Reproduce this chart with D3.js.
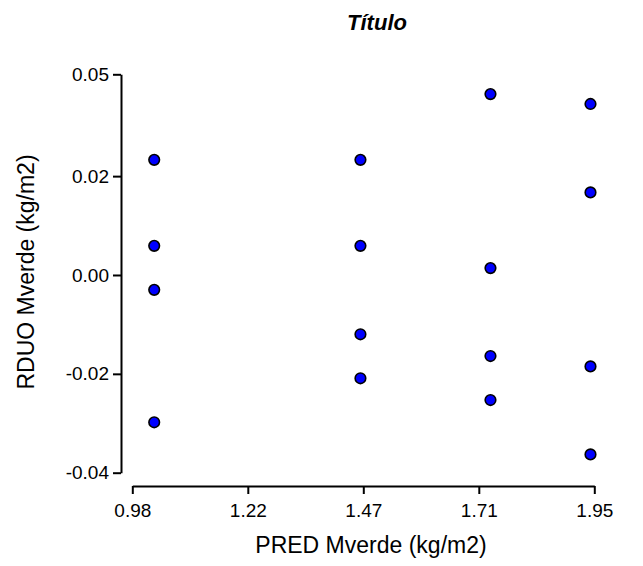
<!DOCTYPE html>
<html>
<head>
<meta charset="utf-8">
<script src="https://cdn.jsdelivr.net/npm/d3@7"></script>
<style>
  body { margin: 0; background: #fff; }
  text { font-family: Arial, "Liberation Sans", sans-serif; fill: #000; }
</style>
</head>
<body>
<svg id="chart" width="643" height="566"></svg>
<script>
// data
const predX = [1.026, 1.026, 1.026, 1.026,
               1.459, 1.459, 1.459, 1.459,
               1.732, 1.732, 1.732, 1.732,
               1.942, 1.942, 1.942, 1.942];
const rduoY = [0.0233, 0.0059, -0.0030, -0.0298,
               0.0233, 0.0059, -0.0120, -0.0209,
               0.0366, 0.0014, -0.0164, -0.0253,
               0.0346, 0.0167, -0.0185, -0.0363];

const xTickValues = [0.98, 1.2225, 1.465, 1.7075, 1.95];
const xTickLabels = ["0.98", "1.22", "1.47", "1.71", "1.95"];
const yTickValues = [-0.04, -0.02, 0, 0.02, 0.0406];
const yTickLabels = ["-0.04", "-0.02", "0.00", "0.02", "0.05"];

const svg = d3.select('#chart');

const xScale = d3.scaleLinear().domain([0.98, 1.95]).range([132.3, 594.3]);
const yScale = d3.scaleLinear().domain([-0.04, 0.0406]).range([472.7, 74.3]);

// y axis
const yAxis = d3.axisLeft(yScale)
  .tickValues(yTickValues)
  .tickFormat((d, i) => yTickLabels[i])
  .tickSize(8)
  .tickSizeOuter(0)
  .tickPadding(4);

const yAxisG = svg.append('g')
  .attr('transform', 'translate(121,0)')
  .call(yAxis);

// x axis, offset below the plot
const xAxis = d3.axisBottom(xScale)
  .tickValues(xTickValues)
  .tickFormat((d, i) => xTickLabels[i])
  .tickSize(8)
  .tickSizeOuter(0)
  .tickPadding(10);

const xAxisG = svg.append('g')
  .attr('transform', 'translate(0,486)')
  .call(xAxis);

[xAxisG, yAxisG].forEach(g => {
  g.select('.domain').attr('stroke', '#000').attr('stroke-width', 2);
  g.selectAll('.tick line').attr('stroke', '#000').attr('stroke-width', 2);
  g.selectAll('.tick text').attr('font-size', 19).attr('fill', '#000');
});

// points
svg.append('g').selectAll('circle')
  .data(predX.map((x, i) => [x, rduoY[i]]))
  .enter().append('circle')
    .attr('cx', d => xScale(d[0]))
    .attr('cy', d => yScale(d[1]))
    .attr('r', 5.3)
    .attr('fill', '#0000ff')
    .attr('stroke', '#000')
    .attr('stroke-width', 1.6);

// titles
svg.append('text')
  .attr('x', 377)
  .attr('y', 30)
  .attr('text-anchor', 'middle')
  .attr('font-size', 22)
  .attr('font-weight', 'bold')
  .attr('font-style', 'italic')
  .text('Título');

svg.append('text')
  .attr('x', 371)
  .attr('y', 553)
  .attr('text-anchor', 'middle')
  .attr('font-size', 23)
  .text('PRED Mverde (kg/m2)');

svg.append('text')
  .attr('transform', 'translate(34,272) rotate(-90)')
  .attr('text-anchor', 'middle')
  .attr('font-size', 23)
  .text('RDUO Mverde (kg/m2)');
</script>
</body>
</html>
